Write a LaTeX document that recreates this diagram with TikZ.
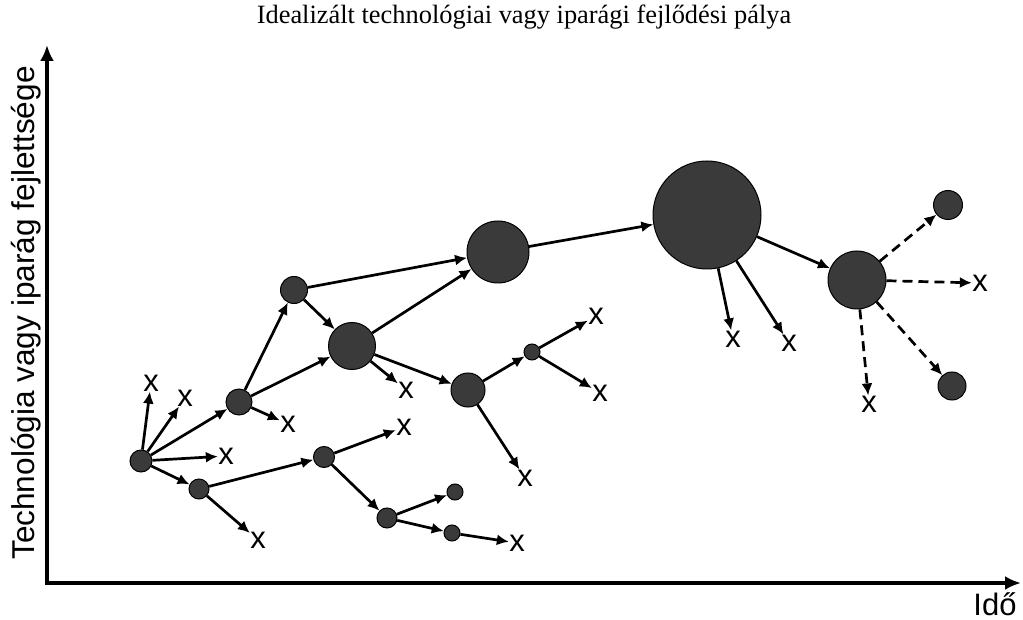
\documentclass[tikz,border=0pt]{standalone}
\usepackage{fontspec}
\setmainfont{Liberation Serif}
\setsansfont{Liberation Sans}
\usetikzlibrary{arrows.meta}

\begin{document}
\begin{tikzpicture}[x=0.5pt,y=-0.5pt,
    ball/.style={circle,draw=black,line width=0.5pt,fill=ballgray,inner sep=0pt,minimum size=#1},
    dead/.style={font=\sffamily\fontsize{15.5}{15.5}\selectfont,inner sep=0pt},
    branch/.style={-{Latex[length=6pt,width=5.5pt]},line width=1.35pt},
    maybebranch/.style={branch,dash pattern=on 5pt off 3pt},
    axisline/.style={{Latex[length=8pt,width=7pt]}-{Latex[length=8pt,width=7pt]},line width=1.6pt}]
\definecolor{ballgray}{HTML}{3A3A3A}
\useasboundingbox (0,0) rectangle (1023,620);

% axes and labels
\coordinate (ytop) at (47,45);
\coordinate (xend) at (1021,583);
\draw[axisline] (ytop) |- (xend);
\node (title) at (524,17) {\fontsize{13.2}{13.2}\selectfont Idealizált technológiai vagy iparági fejlődési pálya};
\node[rotate=90] (ylab) at (26,313) {\sffamily\fontsize{15.8}{15.8}\selectfont Technológia vagy iparág fejlettsége};
\node (xlab) at (995,604) {\sffamily\fontsize{15.5}{15.5}\selectfont Idő};

% technologies
\node[ball=11pt] (a) at (141,461) {};
\node[ball=10pt] (b) at (199,489) {};
\node[ball=13pt] (c) at (239,402) {};
\node[ball=13.5pt] (d) at (294,290) {};
\node[ball=23.5pt] (e) at (352,346) {};
\node[ball=31pt] (f) at (498,252) {};
\node[ball=54pt] (g) at (707,215) {};
\node[ball=29pt] (h) at (857,280) {};
\node[ball=14.5pt] (i) at (948,205) {};
\node[ball=14pt] (j) at (952,386) {};
\node[ball=17pt] (k) at (468,390) {};
\node[ball=8pt] (l) at (532,352) {};
\node[ball=10.5pt] (m) at (324,457) {};
\node[ball=10pt] (n) at (387,518) {};
\node[ball=8pt] (o) at (455,492) {};
\node[ball=8pt] (p) at (452,533) {};

% dead ends
\node[dead] (x1) at (151,383) {x};
\node[dead] (x2) at (185,398) {x};
\node[dead] (x3) at (226,456) {x};
\node[dead] (x4) at (288,424) {x};
\node[dead] (x5) at (258,540) {x};
\node[dead] (x6) at (404,427) {x};
\node[dead] (x7) at (517,543) {x};
\node[dead] (x8) at (406,390) {x};
\node[dead] (x9) at (525,478) {x};
\node[dead] (x10) at (596,316) {x};
\node[dead] (x11) at (600,393) {x};
\node[dead] (x12) at (733,339) {x};
\node[dead] (x13) at (789,343) {x};
\node[dead] (x14) at (980,283) {x};
\node[dead] (x15) at (869,404) {x};

% branches
\draw[branch] (a) -- (x1);
\draw[branch] (a) -- (x2);
\draw[branch] (a) -- (x3);
\draw[branch] (a) -- (b);
\draw[branch] (a) -- (c);
\draw[branch] (b) -- (m);
\draw[branch] (b) -- (x5);
\draw[branch] (c) -- (d);
\draw[branch] (c) -- (e);
\draw[branch] (c) -- (x4);
\draw[branch] (d) -- (e);
\draw[branch] (d) -- (f);
\draw[branch] (e) -- (f);
\draw[branch] (e) -- (k);
\draw[branch] (e) -- (x8);
\draw[branch] (f) -- (g);
\draw[branch] (g) -- (h);
\draw[branch] (g) -- (x12);
\draw[branch] (g) -- (x13);
\draw[maybebranch] (h) -- (i);
\draw[maybebranch] (h) -- (x14);
\draw[maybebranch] (h) -- (x15);
\draw[maybebranch] (h) -- (j);
\draw[branch] (k) -- (l);
\draw[branch] (k) -- (x9);
\draw[branch] (l) -- (x10);
\draw[branch] (l) -- (x11);
\draw[branch] (m) -- (x6);
\draw[branch] (m) -- (n);
\draw[branch] (n) -- (o);
\draw[branch] (n) -- (p);
\draw[branch] (p) -- (x7);
\end{tikzpicture}
\end{document}
